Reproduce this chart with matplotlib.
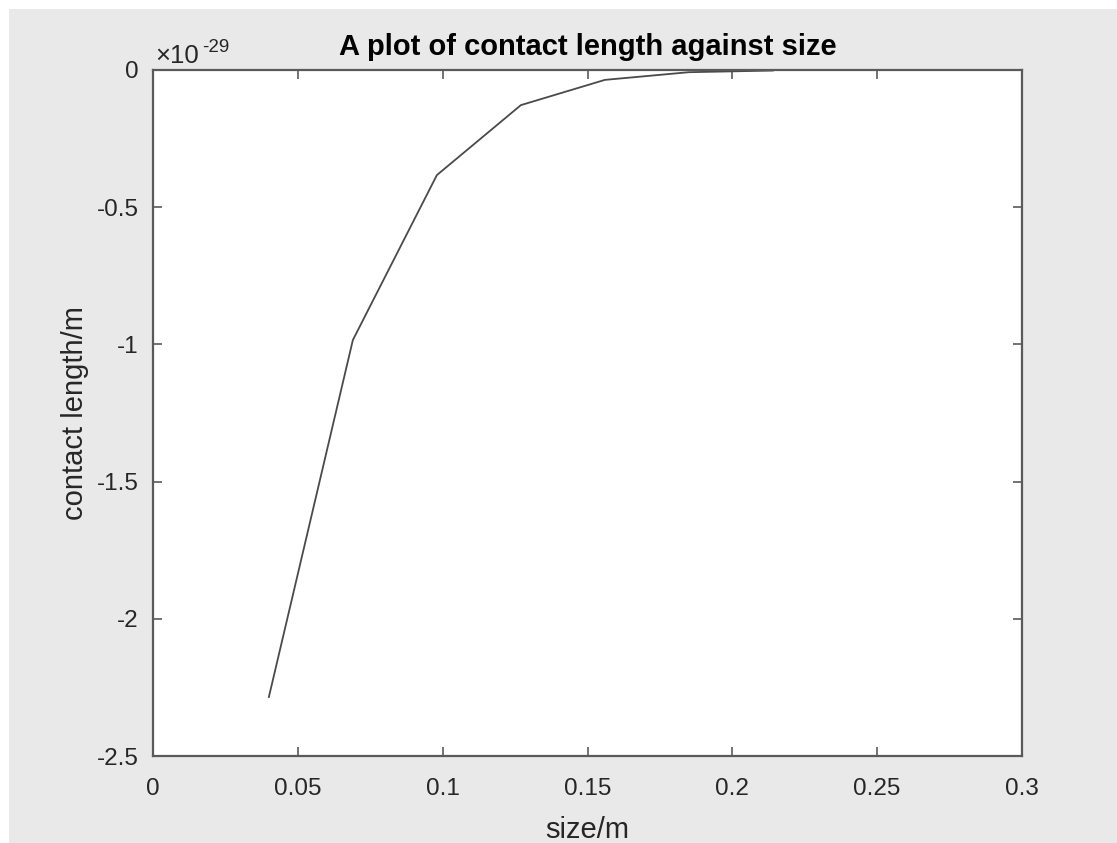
import numpy as np
import matplotlib
matplotlib.use('Agg')
import matplotlib.pyplot as plt
from matplotlib.patches import Rectangle
from matplotlib.ticker import FixedLocator, FuncFormatter

# contact length (in units of 1e-29 m) against size (m)
size_m = [0.040, 0.069, 0.098, 0.127, 0.156, 0.185, 0.214]
contact_len = [-2.285, -0.984, -0.383, -0.128, -0.036, -0.008, -0.002]
scale_exp = -29

x_ticks = [0, 0.05, 0.1, 0.15, 0.2, 0.25, 0.3]
y_ticks = [-2.5, -2, -1.5, -1, -0.5, 0]

plt.rcParams['font.family'] = ['Liberation Sans', 'DejaVu Sans']
plt.rcParams['axes.unicode_minus'] = False

W, H = 1117, 843
fig = plt.figure(figsize=(W / 100, H / 100), dpi=100)
fig.patch.set_facecolor('white')
# grey window area, leaving a thin white margin at top and left
fig.patches.append(Rectangle((9 / W, 0), 1, 1 - 9 / H, transform=fig.transFigure,
                             facecolor='#e9e9e9', edgecolor='none', zorder=-10))

ax = fig.add_axes([153 / W, 1 - 756 / H, (1022 - 153) / W, (756 - 70) / H])
ax.set_facecolor('white')

ax.plot(size_m, contact_len, color='#4a4a4a', lw=1.3)

ax.set_xlim(0, 0.3)
ax.set_ylim(-2.5, 0)
ax.xaxis.set_major_locator(FixedLocator(x_ticks))
ax.yaxis.set_major_locator(FixedLocator(y_ticks))
fmt = FuncFormatter(lambda v, p: ('%g' % v))
ax.xaxis.set_major_formatter(fmt)
ax.yaxis.set_major_formatter(fmt)

for s in ax.spines.values():
    s.set_color('#5a5a5a')
    s.set_linewidth(1.6)
ax.tick_params(direction='in', length=6.5, width=1.2, color='#5a5a5a',
               top=True, right=True, labelsize=17.5, labelcolor='#262626')
ax.tick_params(axis='x', pad=15.5)
ax.tick_params(axis='y', pad=10.5)

ax.set_title('A plot of contact length against size', fontsize=21,
             fontweight='bold', color='black', pad=11)
ax.set_xlabel('size/m', fontsize=21, color='#262626', labelpad=12)
ax.set_ylabel('contact length/m', fontsize=21, color='#262626', labelpad=5)

# exponent label above the y axis
ax.annotate('\u00d710', xy=(0, 1), xycoords='axes fraction', xytext=(1.5, 5),
            textcoords='offset points', fontsize=18.5, color='#262626',
            ha='left', va='baseline')
ax.annotate('%d' % scale_exp, xy=(0, 1), xycoords='axes fraction', xytext=(35.5, 13),
            textcoords='offset points', fontsize=13.5, color='#262626',
            ha='left', va='baseline')

fig.savefig('out.png', dpi=100)
